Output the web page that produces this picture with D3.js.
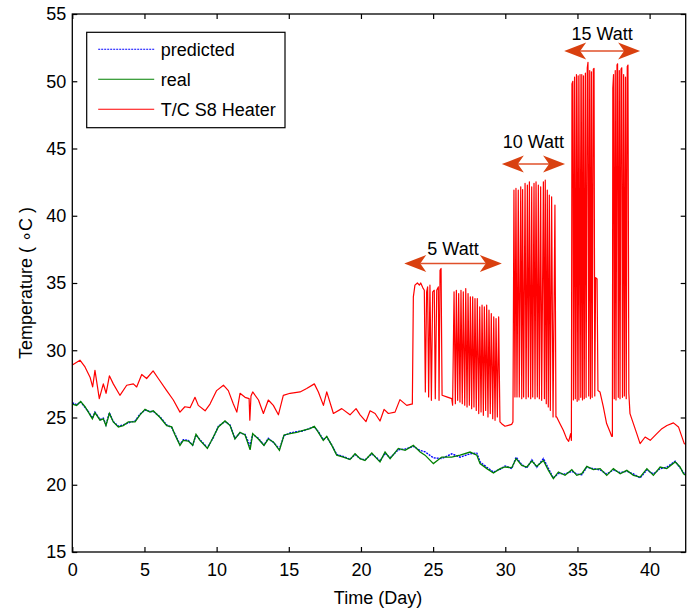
<!DOCTYPE html>
<html>
<head>
<meta charset="utf-8">
<script src="https://cdn.jsdelivr.net/npm/d3@7"></script>
<style>
  body { margin: 0; background: #fff; }
  text { font-family: Arial, "Liberation Sans", sans-serif; }
</style>
</head>
<body>
<div class="canvas"></div>
<script>
// sample days for the predicted / real curves
const days = [0, 0.3, 0.58, 0.88, 1.11, 1.39, 1.57, 1.92, 2.15, 2.33,
  2.57, 2.84, 3.19, 3.53, 3.88, 4.35, 4.69, 5.04, 5.38, 5.61,
  6.08, 6.54, 6.89, 7.12, 7.46, 7.69, 8.04, 8.34, 8.57, 8.85,
  9.36, 9.77, 10.12, 10.58, 10.93, 11.27, 11.62, 11.97, 12.32, 12.5,
  12.89, 13.28, 13.58, 13.93, 14.35, 14.67, 15.09, 15.55, 16.0, 16.47,
  16.77, 17.05, 17.39, 17.63, 17.98, 18.32, 18.78, 19.24, 19.59, 19.94,
  20.28, 20.75, 21.1, 21.32, 21.67, 22.02, 22.59, 23.06, 23.63, 24.1,
  24.44, 25.02, 25.6, 26.29, 26.87, 27.56, 28.03, 28.25, 28.72, 29.18,
  29.64, 29.99, 30.45, 30.75, 31.14, 31.49, 31.84, 32.18, 32.64, 32.99,
  33.33, 33.68, 34.14, 34.61, 34.95, 35.3, 35.65, 36.1, 36.57, 37.03,
  37.49, 37.96, 38.42, 38.88, 39.34, 39.81, 40.26, 40.73, 41.19, 41.77,
  42.11, 42.35, 42.5];

const real = [26.0, 25.9, 26.2, 25.8, 25.4, 24.9, 25.36, 24.8, 24.9, 24.4,
  25.3, 24.67, 24.3, 24.4, 24.67, 24.67, 25.2, 25.6, 25.4, 25.5,
  25.0, 24.4, 24.3, 23.7, 22.93, 23.3, 23.25, 22.93, 23.75, 23.3,
  22.7, 23.55, 24.3, 24.74, 24.4, 23.4, 23.9, 23.7, 22.6, 23.8,
  23.4, 22.93, 23.4, 23.18, 22.56, 23.7, 23.8, 23.9, 24.05, 24.17,
  24.35, 23.9, 23.3, 23.6, 22.93, 22.2, 22.06, 21.87, 22.3, 21.94,
  21.8, 22.36, 21.94, 21.7, 22.43, 21.94, 22.7, 22.56, 22.93, 22.43,
  22.2, 21.57, 22.06, 22.06, 22.2, 22.43, 22.2, 21.57, 21.2, 20.87,
  21.2, 21.32, 21.27, 21.94, 21.44, 21.32, 21.76, 21.37, 21.8, 21.07,
  20.45, 20.95, 20.7, 21.12, 20.7, 20.82, 21.37, 21.12, 21.2, 20.7,
  21.2, 20.82, 21.07, 20.7, 20.57, 21.2, 20.7, 21.32, 21.2, 21.7,
  21.32, 20.82, 20.7];

const predicted = [26.1, 25.95, 26.15, 25.75, 25.45, 24.95, 25.4, 24.85, 24.95, 24.45,
  25.35, 24.7, 24.35, 24.45, 24.6, 24.75, 25.25, 25.55, 25.45, 25.45,
  25.05, 24.45, 24.25, 23.75, 23.0, 23.35, 23.3, 22.95, 23.7, 23.35,
  22.75, 23.5, 24.35, 24.7, 24.45, 23.45, 23.85, 23.75, 22.9, 23.75,
  23.45, 22.95, 23.45, 23.15, 22.65, 23.65, 23.85, 23.95, 24.0, 24.2,
  24.3, 23.95, 23.35, 23.55, 22.95, 22.25, 22.1, 21.9, 22.25, 21.95,
  21.85, 22.3, 22.0, 21.75, 22.35, 22.0, 22.6, 22.65, 22.85, 22.55,
  22.45, 22.0, 21.95, 22.3, 22.05, 22.3, 22.35, 21.7, 21.3, 20.95,
  21.15, 21.4, 21.2, 22.05, 21.5, 21.25, 21.85, 21.3, 21.95, 21.2,
  20.5, 20.85, 20.8, 21.0, 20.8, 20.75, 21.3, 21.2, 21.1, 20.8,
  21.1, 20.9, 21.0, 20.8, 20.5, 21.1, 20.8, 21.2, 21.3, 21.75,
  21.25, 20.9, 20.75];

// T/C S8 heater thermocouple, [day, temperature]
const heater = [
  [0, 28.9], [0.53, 29.26], [0.88, 28.76], [1.23, 28.0], [1.41, 27.27], [1.57, 28.5], [1.87, 26.4],
  [2.15, 27.5], [2.34, 26.8], [2.57, 28.1], [2.84, 27.5], [3.3, 26.65], [3.77, 27.4], [4.23, 27.5],
  [4.46, 27.27], [4.81, 28.2], [5.15, 27.9], [5.6, 28.46], [5.96, 27.9], [6.54, 27.0], [7.0, 26.3],
  [7.46, 25.4], [7.8, 25.8], [8.16, 25.73], [8.5, 26.5], [8.73, 25.9], [9.2, 25.5], [9.54, 26.0],
  [10.0, 27.0], [10.47, 27.4], [10.81, 27.0], [11.16, 26.0], [11.4, 25.4], [11.62, 26.8], [11.97, 26.5],
  [12.25, 26.4], [12.3, 24.8], [12.38, 26.6], [12.5, 26.9], [12.9, 26.3], [13.24, 25.3], [13.58, 26.3],
  [13.93, 25.9], [14.28, 25.2], [14.62, 26.65], [15.09, 26.8], [15.78, 26.9], [16.24, 27.15],
  [16.77, 27.5], [17.05, 26.9], [17.4, 25.9], [17.63, 26.9], [18.09, 25.3], [18.67, 25.66],
  [19.24, 25.2], [19.66, 25.66], [19.94, 25.2], [20.35, 24.7], [20.63, 25.5], [20.98, 25.3],
  [21.32, 24.74], [21.6, 25.6], [21.9, 25.3], [22.36, 25.4], [22.7, 26.33], [23.17, 25.9], [23.5, 26.0],
  // 5 Watt
  [23.56, 26.0], [23.63, 33.97], [23.74, 34.84], [23.91, 35.0], [24.05, 34.84], [24.14, 35.0],
  [24.28, 34.66], [24.39, 34.46], [24.46, 26.9], [24.55, 34.34], [24.62, 34.71], [24.69, 26.53],
  [24.78, 34.84], [24.88, 26.28], [24.97, 34.34], [25.08, 34.46], [25.15, 26.4], [25.25, 34.46],
  [25.36, 34.71], [25.41, 26.28], [25.48, 35.95], [25.55, 36.08], [25.62, 26.65], [25.94, 26.53],
  [26.29, 26.4], [26.35, 25.91],
  [26.45, 34.34], [26.54, 26.03], [26.61, 34.46], [26.7, 26.28], [26.77, 34.22], [26.86, 26.15],
  [26.93, 34.46], [27.02, 26.03], [27.09, 34.34], [27.19, 25.91], [27.26, 34.59], [27.35, 25.78],
  [27.42, 34.22], [27.51, 25.91], [27.58, 33.97], [27.67, 25.66], [27.74, 33.97], [27.83, 25.78],
  [27.9, 33.84], [27.99, 25.53], [28.06, 33.84], [28.16, 25.29],
  [28.23, 33.22], [28.32, 25.41], [28.39, 33.35], [28.48, 25.16], [28.55, 33.22], [28.64, 25.53],
  [28.71, 33.35], [28.8, 25.04], [28.87, 32.98], [28.96, 25.29], [29.03, 32.73], [29.13, 24.91],
  [29.2, 32.48], [29.29, 24.79], [29.36, 32.36], [29.45, 25.04], [29.54, 32.48], [29.63, 24.67],
  [29.75, 24.54], [29.98, 24.35], [30.21, 24.42], [30.44, 24.49], [30.53, 24.67],
  // 10 Watt
  [30.6, 41.9], [30.67, 26.53], [30.74, 42.03], [30.81, 26.53], [30.9, 41.9], [30.97, 26.53],
  [31.07, 42.15], [31.14, 26.4], [31.2, 41.95], [31.27, 26.53], [31.37, 42.4], [31.44, 26.4],
  [31.53, 42.28], [31.6, 26.53], [31.67, 42.52], [31.76, 26.4], [31.83, 42.15], [31.9, 26.53],
  [31.99, 42.4], [32.06, 26.4], [32.13, 42.52], [32.22, 26.53], [32.29, 42.28], [32.36, 26.4],
  [32.45, 42.15], [32.52, 26.28], [32.64, 42.52], [32.71, 26.4], [32.77, 42.65], [32.84, 26.03],
  [32.91, 41.9], [32.98, 25.78], [33.05, 41.53], [33.12, 25.53], [33.21, 41.41], [33.31, 25.04],
  [33.44, 40.79], [33.51, 25.04],
  [33.56, 25.04], [33.79, 24.54], [34.02, 24.05], [34.25, 23.43], [34.39, 23.23], [34.53, 23.8],
  // 15 Watt
  [34.58, 23.3], [34.62, 49.8], [34.68, 50.0], [34.72, 26.3], [34.8, 50.3], [34.85, 26.4],
  [34.93, 50.5], [34.98, 26.2], [35.05, 50.4], [35.1, 26.3], [35.18, 50.5], [35.23, 26.5],
  [35.3, 50.5], [35.35, 26.3], [35.42, 50.4], [35.47, 26.4], [35.55, 50.6], [35.6, 26.5],
  [35.68, 51.0], [35.73, 51.4], [35.78, 26.6], [35.85, 50.8], [35.9, 26.4], [35.97, 50.7],
  [36.02, 26.5], [36.1, 50.9], [36.15, 50.96], [36.2, 26.6], [36.26, 35.4], [36.36, 35.3],
  [36.42, 27.0], [36.56, 26.9], [36.79, 25.8], [37.02, 24.55], [37.26, 23.92], [37.37, 23.6],
  [37.42, 23.6], [37.45, 49.5], [37.5, 50.5], [37.55, 26.4], [37.62, 50.8], [37.67, 26.3],
  [37.74, 51.2], [37.78, 51.3], [37.83, 26.5], [37.9, 50.8], [37.95, 26.4], [38.02, 50.9],
  [38.07, 51.0], [38.12, 26.5], [38.2, 50.5], [38.25, 26.6], [38.33, 50.3], [38.38, 26.4],
  [38.45, 51.1], [38.5, 51.2], [38.56, 26.8],
  [38.64, 25.29], [39.11, 23.8], [39.34, 23.06], [39.69, 23.55], [40.04, 23.3], [40.5, 23.8],
  [40.85, 24.17], [41.2, 24.4], [41.65, 24.6], [42.0, 24.3], [42.4, 23.06], [42.5, 23.0]
];

const xTicks = [0, 5, 10, 15, 20, 25, 30, 35, 40];
const yTicks = [15, 20, 25, 30, 35, 40, 45, 50, 55];

const seriesNames = ["predicted", "real", "T/C S8 Heater"];
const seriesColours = ["#0000ff", "#008000", "#ff0000"];

// power annotations: arrow span in days, arrow level and label level in deg C
const wattLabels = ["5 Watt", "10 Watt", "15 Watt"];
const wattFrom = [23.0, 29.76, 34.08];
const wattTo = [29.76, 34.14, 39.34];
const wattLevel = [36.45, 43.84, 52.25];
const wattTextLevel = [37.07, 45.03, 53.07];

const dims = { width: 697, height: 609 };
const plot = { left: 72.3, right: 685.7, top: 14, bottom: 552 };

const svg = d3
  .select(".canvas")
  .append("svg")
  .attr("width", dims.width)
  .attr("height", dims.height);

const x = d3.scaleLinear().domain([0, 42.5]).range([plot.left, plot.right]);
const y = d3.scaleLinear().domain([15, 55]).range([plot.bottom, plot.top]);

svg.append("clipPath").attr("id", "clip")
  .append("rect")
  .attr("x", plot.left).attr("y", plot.top)
  .attr("width", plot.right - plot.left).attr("height", plot.bottom - plot.top);

// axes, ticks point inward like matlab
const styleAxis = (g) => {
  g.select(".domain").remove();
  g.selectAll("line").attr("stroke", "#000").attr("stroke-width", 1.2);
  g.selectAll("text").attr("fill", "#000").style("font-size", "18px")
    .style("font-family", "Arial, 'Liberation Sans', sans-serif");
};

svg.append("g")
  .attr("transform", `translate(0, ${plot.bottom})`)
  .call(d3.axisBottom(x).tickValues(xTicks).tickSizeInner(-5).tickSizeOuter(0).tickPadding(11))
  .call(styleAxis);

svg.append("g")
  .attr("transform", `translate(0, ${plot.top})`)
  .call(d3.axisTop(x).tickValues(xTicks).tickSizeInner(-5).tickSizeOuter(0).tickFormat(""))
  .call(styleAxis);

svg.append("g")
  .attr("transform", `translate(${plot.left}, 0)`)
  .call(d3.axisLeft(y).tickValues(yTicks).tickSizeInner(-5).tickSizeOuter(0).tickPadding(6))
  .call(styleAxis);

svg.append("g")
  .attr("transform", `translate(${plot.right}, 0)`)
  .call(d3.axisRight(y).tickValues(yTicks).tickSizeInner(-5).tickSizeOuter(0).tickFormat(""))
  .call(styleAxis);

const graph = svg.append("g").attr("clip-path", "url(#clip)");

const dayLine = d3.line().x((d, i) => x(days[i])).y((d) => y(d));

graph.append("path")
  .attr("d", dayLine(predicted))
  .attr("fill", "none")
  .attr("stroke", seriesColours[0])
  .attr("stroke-width", 1.4)
  .attr("stroke-dasharray", "2,1");

graph.append("path")
  .attr("d", dayLine(real))
  .attr("fill", "none")
  .attr("stroke", seriesColours[1])
  .attr("stroke-width", 1.3);

graph.append("path")
  .attr("d", d3.line().x((d) => x(d[0])).y((d) => y(d[1]))(heater))
  .attr("fill", "none")
  .attr("stroke", seriesColours[2])
  .attr("stroke-width", 1.2)
  .attr("stroke-linejoin", "round");

// frame
svg.append("rect")
  .attr("x", plot.left).attr("y", plot.top)
  .attr("width", plot.right - plot.left).attr("height", plot.bottom - plot.top)
  .attr("fill", "none")
  .attr("stroke", "#000")
  .attr("stroke-width", 1.3);

// annotation arrows
const arrowColour = "#d9400f";
const head = (tipX, yy, dir) =>
  `M${tipX},${yy} L${tipX + dir * 22},${yy - 8.5} L${tipX + dir * 16},${yy} L${tipX + dir * 22},${yy + 8.5} Z`;

wattLabels.forEach((label, i) => {
  const x0 = x(wattFrom[i]);
  const x1 = x(wattTo[i]);
  const yy = y(wattLevel[i]);
  const g = svg.append("g");
  g.append("line")
    .attr("x1", x0 + 16).attr("x2", x1 - 16)
    .attr("y1", yy).attr("y2", yy)
    .attr("stroke", "#e0502a")
    .attr("stroke-width", 1.5);
  g.append("path").attr("d", head(x0, yy, 1)).attr("fill", arrowColour);
  g.append("path").attr("d", head(x1, yy, -1)).attr("fill", arrowColour);
  g.append("text")
    .attr("x", (x0 + x1) / 2)
    .attr("y", y(wattTextLevel[i]))
    .attr("text-anchor", "middle")
    .style("font-size", "18px")
    .attr("fill", "#000")
    .text(label);
});

// legend
const legendGroup = svg.append("g").attr("transform", "translate(86.7, 32.3)");
legendGroup.append("rect")
  .attr("width", 198.3).attr("height", 95.4)
  .attr("fill", "#fff")
  .attr("stroke", "#000")
  .attr("stroke-width", 1.2);

seriesNames.forEach((name, i) => {
  const ry = 17 + i * 30;
  legendGroup.append("line")
    .attr("x1", 11.5).attr("x2", 67.5)
    .attr("y1", ry).attr("y2", ry)
    .attr("stroke", seriesColours[i])
    .attr("stroke-width", 1.1)
    .attr("stroke-dasharray", i === 0 ? "2,1" : null);
  legendGroup.append("text")
    .attr("x", 74)
    .attr("y", ry + 6.5)
    .style("font-size", "18px")
    .attr("fill", "#000")
    .text(name);
});

// axis titles
svg.append("text")
  .attr("x", (plot.left + plot.right) / 2 - 1)
  .attr("y", 604)
  .attr("text-anchor", "middle")
  .style("font-size", "18px")
  .text("Time (Day)");

svg.append("text")
  .attr("transform", `translate(32, ${(plot.top + plot.bottom) / 2}) rotate(-90)`)
  .attr("text-anchor", "middle")
  .style("font-size", "18px")
  .text("Temperature ( \u2218C )");
</script>
</body>
</html>
